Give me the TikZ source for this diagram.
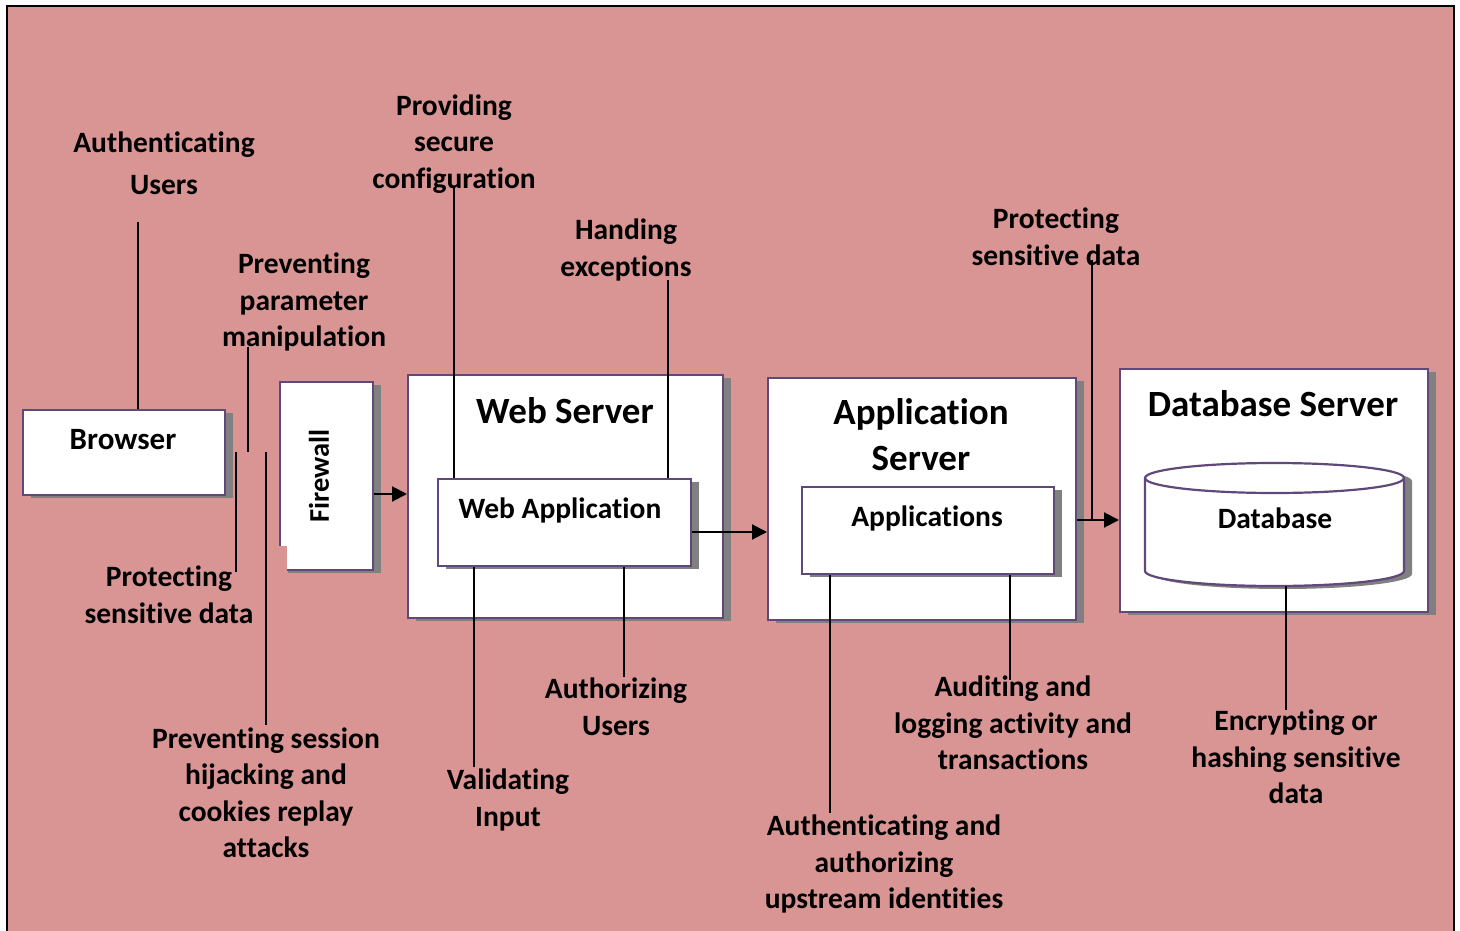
\documentclass[tikz,border=0pt]{standalone}
\usepackage{fontspec}
\setmainfont{Carlito}[RawFeature=-liga]
\usetikzlibrary{arrows.meta,shadows}
\definecolor{bgpink}{RGB}{217,149,148}
\definecolor{boxline}{RGB}{96,73,122}
\definecolor{shadowgray}{RGB}{128,128,128}
\begin{document}
\begin{tikzpicture}[x=1pt,y=-1pt,
  box/.style={draw=boxline, line width=2.2pt, fill=white, inner sep=0pt, anchor=north west,
    drop shadow={shadow xshift=8pt, shadow yshift=-3pt, fill=shadowgray, opacity=1}},
  lbl/.style={font=\fontsize{29.5}{36.5}\selectfont\bfseries, align=center, inner sep=0pt},
  inlbl/.style={font=\fontsize{29.5}{36}\selectfont\bfseries, inner sep=0pt},
  ttl/.style={font=\fontsize{37}{46}\selectfont\bfseries, align=center, inner sep=0pt},
  conn/.style={line width=2pt},
  arr/.style={line width=2pt, -{Triangle[length=15pt,width=15pt]}}
]
\useasboundingbox (0,0) rectangle (1460,931);
\clip (0,0) rectangle (1460,931);
\fill[white] (0,0) rectangle (1460,931);
\draw[line width=2pt, fill=bgpink] (6.5,6.5) rectangle (1453.5,945);

% boxes
\node[box, minimum width=202pt, minimum height=85pt] (browser) at (22,409) {};
\node[box, minimum width=93pt, minimum height=188pt] (firewall) at (279,381) {};
\fill[bgpink] (277.5,546) rectangle (287,572);
\node[box, minimum width=315pt, minimum height=243pt] (websrv) at (407,374) {};
\node[box, minimum width=253pt, minimum height=87pt] (webapp) at (437,478) {};
\node[box, minimum width=308pt, minimum height=242pt] (appsrv) at (767,377) {};
\node[box, minimum width=252pt, minimum height=87pt] (apps) at (801,486) {};
\node[box, minimum width=308pt, minimum height=243pt] (dbsrv) at (1119,368) {};

% cylinder
\fill[shadowgray] (1153,481) -- (1153,574) arc[start angle=180,end angle=360,x radius=129.5pt,y radius=15pt]
  -- (1412,481) arc[start angle=0,end angle=180,x radius=129.5pt,y radius=15pt] -- cycle;
\filldraw[draw=boxline, line width=2.2pt, fill=white] (1145,478) -- (1145,571) arc[start angle=180,end angle=360,x radius=129.5pt,y radius=15pt]
  -- (1404,478) arc[start angle=0,end angle=180,x radius=129.5pt,y radius=15pt] -- cycle;
\draw[draw=boxline, line width=2.2pt] (1145,478) arc[start angle=180,end angle=360,x radius=129.5pt,y radius=15pt];
\node[inner sep=0pt, minimum width=259pt, minimum height=123pt, anchor=north west] (db) at (1145,463) {};

% box texts
\node[inlbl, font=\fontsize{31}{36}\selectfont\bfseries] (browserT) at (123,440) {Browser};
\node[inlbl, rotate=90, font=\fontsize{28.5}{34}\selectfont\bfseries] (firewallT) at (319,476) {Firewall};
\node[ttl] (websrvT) at (565,411) {Web Server};
\node[inlbl] (webappT) at (560,510) {Web Application};
\node[ttl] (appsrvT) at (921,435) {Application\\Server};
\node[inlbl] (appsT) at (927,518) {Applications};
\node[ttl] (dbsrvT) at (1273,404) {Database Server};
\node[inlbl] (dbT) at (1275,518) {Database};

% labels
\node[lbl, font=\fontsize{29.5}{42}\selectfont\bfseries] (lAuthU) at (164,163) {Authenticating\\Users};
\node[lbl] (lProv) at (454,144) {Providing\\secure\\configuration};
\node[lbl] (lParam) at (304,302) {Preventing\\parameter\\manipulation};
\node[lbl] (lHand) at (626,250) {Handing\\exceptions};
\node[lbl] (lProtR) at (1056,237) {Protecting\\sensitive data};
\node[lbl] (lProtL) at (169,595) {Protecting\\sensitive data};
\node[lbl] (lSess) at (266,793) {Preventing session\\hijacking and\\cookies replay\\attacks};
\node[lbl] (lValid) at (508,800) {Validating\\Input};
\node[lbl] (lAuthz) at (616,707) {Authorizing\\Users};
\node[lbl] (lAudit) at (1013,723) {Auditing and\\logging activity and\\transactions};
\node[lbl] (lAuthUp) at (884,864) {Authenticating and\\authorizing\\upstream identities};
\node[lbl] (lEnc) at (1296,757) {Encrypting or\\hashing sensitive\\data};

% free ends of connectors
\coordinate (cAuthU) at (138,222);
\coordinate (cParamT) at (248,347);
\coordinate (cParamB) at (248,452);
\coordinate (cProtLT) at (236,452);
\coordinate (cProtLB) at (236,572);
\coordinate (cSessT) at (266,452);
\coordinate (cSessB) at (266,725);
\coordinate (cProv) at (454,187);
\coordinate (cHand) at (668,280);
\coordinate (cValid) at (474,767);
\coordinate (cAuthz) at (624,677);
\coordinate (cProtR) at (1092,260);
\coordinate (cAudit) at (1010,680);
\coordinate (cAuthUp) at (830,813);
\coordinate (cEnc) at (1286,710);
\coordinate (yA1) at (0,494);
\coordinate (yA2) at (0,532);
\coordinate (yA3) at (0,520);
\coordinate (jR) at (1092,520);

% connectors
\draw[conn] (cAuthU) -- (cAuthU |- browser.north);
\draw[conn] (cParamT) -- (cParamB);
\draw[conn] (cProtLT) -- (cProtLB);
\draw[conn] (cSessT) -- (cSessB);
\draw[conn] (cProv) -- (cProv |- webapp.north);
\draw[conn] (cHand) -- (cHand |- webapp.north);
\draw[conn] (cValid |- webapp.south) -- (cValid);
\draw[conn] (cAuthz |- webapp.south) -- (cAuthz);
\draw[conn] (cProtR) -- (jR);
\draw[conn] (cAudit |- apps.south) -- (cAudit);
\draw[conn] (cAuthUp |- apps.south) -- (cAuthUp);
\draw[conn] (cEnc |- db.south) -- (cEnc);

% arrows
\draw[arr] (firewall.east |- yA1) -- (websrv.west |- yA1);
\draw[arr] (webapp.east |- yA2) -- (appsrv.west |- yA2);
\draw[arr] (appsrv.east |- yA3) -- (dbsrv.west |- yA3);
\end{tikzpicture}
\end{document}
